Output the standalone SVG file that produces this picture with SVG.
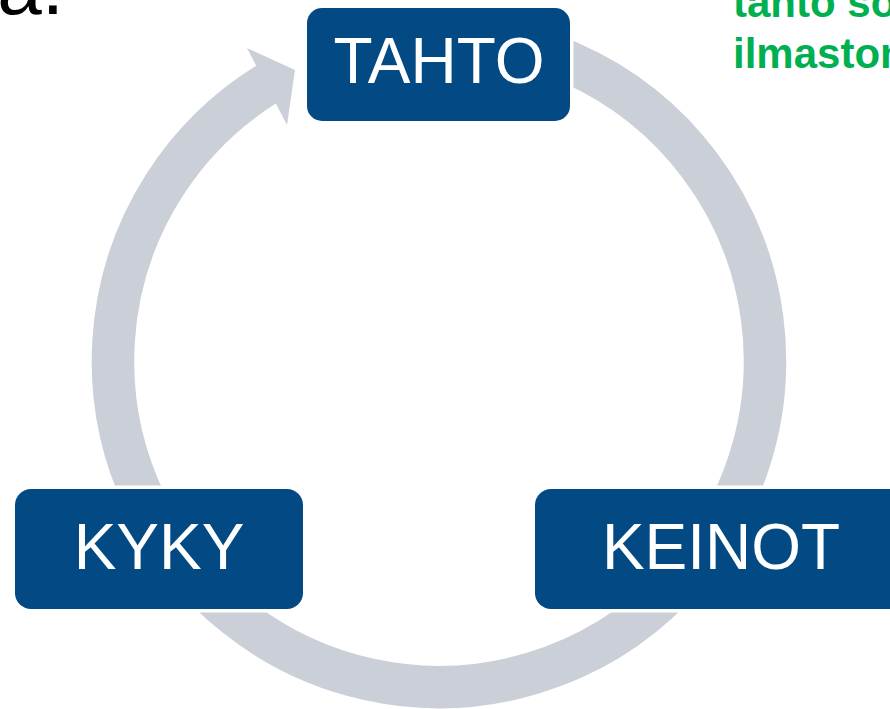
<svg xmlns="http://www.w3.org/2000/svg" width="890" height="709" viewBox="0 0 890 709">
  <style>
    .box { fill: #034A85; stroke: #FFFFFF; stroke-width: 7; paint-order: stroke; }
    .lbl { font-family: "Liberation Sans", Arial, sans-serif; font-size: 64px; fill: #FFFFFF; text-anchor: middle; }
    .green { font-family: "Liberation Sans", Arial, sans-serif; font-size: 42px; font-weight: bold; fill: #00B050; }
    .ring { fill: none; stroke: #CBCFD8; stroke-width: 42.5; }
  </style>
  <rect width="890" height="709" fill="#FFFFFF"/>
  <text x="64" y="14" font-family="'Liberation Sans', Arial, sans-serif" font-size="80" fill="#000000" text-anchor="end">la.</text>
  <text class="green" x="733" y="17">tanto so</text>
  <text class="green" x="733" y="68">ilmaston</text>
  <g id="connectors">
    <path class="ring" d="M 427.6 35.2 A 326 326 0 1 1 268.7 83.0"/>
    <polygon points="247,48 295,70 287,125" fill="#CBCFD8"/>
  </g>
  <g id="node-tahto">
    <rect class="box" x="307" y="8" width="263" height="113" rx="15"/>
    <text class="lbl" x="439" y="83">TAHTO</text>
  </g>
  <g id="node-kyky">
    <rect class="box" x="15" y="489" width="288" height="120" rx="16"/>
    <text class="lbl" x="159" y="569">KYKY</text>
  </g>
  <g id="node-keinot">
    <rect class="box" x="535" y="489" width="372" height="120" rx="16"/>
    <text class="lbl" x="721" y="569">KEINOT</text>
  </g>
</svg>
